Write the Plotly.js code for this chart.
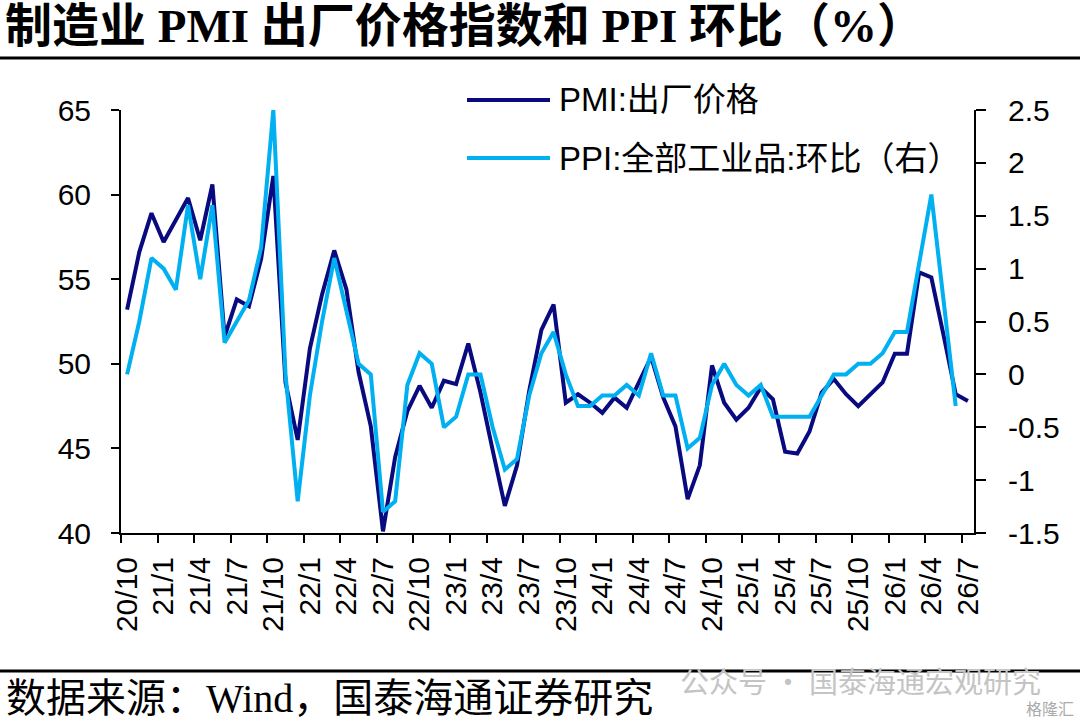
<!DOCTYPE html>
<html><head><meta charset="utf-8">
<script src="https://cdn.plot.ly/plotly-3.0.1.min.js"></script>
<style>html,body{margin:0;padding:0;background:#fff}#chart{width:1080px;height:723px}</style>
</head><body><div id="chart"></div>
<script>
const months = [
  "20/10","20/11","20/12",
  "21/1","21/2","21/3","21/4","21/5","21/6","21/7","21/8","21/9","21/10","21/11","21/12",
  "22/1","22/2","22/3","22/4","22/5","22/6","22/7","22/8","22/9","22/10","22/11","22/12",
  "23/1","23/2","23/3","23/4","23/5","23/6","23/7","23/8","23/9","23/10","23/11","23/12",
  "24/1","24/2","24/3","24/4","24/5","24/6","24/7","24/8","24/9","24/10","24/11","24/12",
  "25/1","25/2","25/3","25/4","25/5","25/6","25/7","25/8","25/9","25/10","25/11","25/12",
  "26/1","26/2","26/3","26/4","26/5","26/6","26/7"
];
const pmiOutputPrice = [
  53.2,56.6,58.9,
  57.2,58.5,59.8,57.3,60.6,51.6,53.8,53.4,56.2,61.1,48.9,45.5,
  50.9,54.1,56.7,54.4,49.5,46.3,40.1,44.5,47.2,48.7,47.4,49.0,
  48.8,51.2,48.3,44.9,41.6,44.0,48.4,52.0,53.5,47.7,48.2,47.7,
  47.1,48.0,47.4,48.9,50.4,48.0,46.3,42.0,44.0,49.9,47.7,46.7,
  47.4,48.6,47.9,44.8,44.7,46.0,48.3,49.1,48.2,47.5,48.2,48.9,
  50.6,50.6,55.4,55.1,51.7,48.2,47.8
];
const ppiMoM = [
  0.0,0.5,1.1,
  1.0,0.8,1.6,0.9,1.6,0.3,0.5,0.7,1.2,2.5,0.0,-1.2,
  -0.2,0.5,1.1,0.6,0.1,0.0,-1.3,-1.2,-0.1,0.2,0.1,-0.5,
  -0.4,0.0,0.0,-0.5,-0.9,-0.8,-0.2,0.2,0.4,0.0,-0.3,-0.3,
  -0.2,-0.2,-0.1,-0.2,0.2,-0.2,-0.2,-0.7,-0.6,-0.1,0.1,-0.1,
  -0.2,-0.1,-0.4,-0.4,-0.4,-0.4,-0.2,0.0,0.0,0.1,0.1,0.2,
  0.4,0.4,1.05,1.7,0.7,-0.3
];
const leftTickVals = [40,45,50,55,60,65];
const rightTickVals = [-1.5,-1,-0.5,0,0.5,1,1.5,2,2.5];
const rightTickText = ["-1.5","-1","-0.5","0","0.5","1","1.5","2","2.5"];
const seriesNames = ["PMI:出厂价格","PPI:全部工业品:环比（右）"];
const seriesColors = ["#0A0A80","#00B0F0"];
const titleText = "制造业 PMI 出厂价格指数和 PPI 环比（%）";
const sourceText = "数据来源：Wind，国泰海通证券研究";
const watermarkText = "公众号 · 国泰海通宏观研究";

const W = 1080, H = 723, L = 121, R = 974, T = 110, B = 533;
const px = x => (x - L) / (R - L);
const py = y => (B - y) / (B - T);

const tickFont = {family: "Liberation Sans, Arial, sans-serif", size: 30, color: "#000"};
const legendFont = {family: "Liberation Sans, Noto Sans CJK SC, sans-serif", size: 33, color: "#000"};

const traces = [
  {x: months, y: pmiOutputPrice, type: "scatter", mode: "lines", name: seriesNames[0],
   line: {color: seriesColors[0], width: 4}, yaxis: "y"},
  {x: months.slice(0, ppiMoM.length), y: ppiMoM, type: "scatter", mode: "lines", name: seriesNames[1],
   line: {color: seriesColors[1], width: 4}, yaxis: "y2"}
];

const layout = {
  width: W, height: H,
  margin: {l: L, r: W - R, t: T, b: H - B, pad: 0},
  paper_bgcolor: "#fff", plot_bgcolor: "#fff",
  showlegend: false,
  title: {text: titleText, x: 5 / W, xanchor: "left", xref: "container",
          y: 1 - 26 / H, yanchor: "middle", yref: "container",
          font: {family: "Liberation Serif, Noto Sans CJK SC, serif", size: 47, color: "#000", weight: "bold"}},
  xaxis: {type: "category", range: [-0.5, months.length - 0.5], tickmode: "linear", tick0: 0, dtick: 3,
          tickson: "boundaries", ticks: "outside", ticklen: 8, tickwidth: 2, tickcolor: "#000",
          showline: true, linewidth: 2, linecolor: "#000", showgrid: false, zeroline: false,
          tickangle: -90, tickfont: tickFont, ticklabelstandoff: 10, fixedrange: true},
  yaxis: {range: [40, 65], tickmode: "array", tickvals: leftTickVals, ticks: "outside", ticklen: 8,
          tickwidth: 2, tickcolor: "#000", showline: true, linewidth: 2, linecolor: "#000",
          showgrid: false, zeroline: false, tickfont: tickFont, ticklabelstandoff: 14},
  yaxis2: {range: [-1.5, 2.5], overlaying: "y", side: "right", tickmode: "array", tickvals: rightTickVals,
           ticktext: rightTickText, ticks: "outside", ticklen: 10, tickwidth: 2, tickcolor: "#000",
           showline: true, linewidth: 2, linecolor: "#000", showgrid: false, zeroline: false,
           tickfont: tickFont, ticklabelstandoff: 16},
  shapes: [
    {type: "line", xref: "paper", yref: "paper", x0: px(0), x1: px(W), y0: py(58), y1: py(58),
     line: {color: "#000", width: 3}},
    {type: "line", xref: "paper", yref: "paper", x0: px(0), x1: px(W), y0: py(671), y1: py(671),
     line: {color: "#000", width: 3}},
    {type: "line", xref: "paper", yref: "paper", x0: px(467), x1: px(550), y0: py(100), y1: py(100),
     line: {color: seriesColors[0], width: 4}},
    {type: "line", xref: "paper", yref: "paper", x0: px(467), x1: px(550), y0: py(158), y1: py(158),
     line: {color: seriesColors[1], width: 4}}
  ],
  annotations: [
    {text: seriesNames[0], xref: "paper", yref: "paper", x: px(557), y: py(100), xanchor: "left",
     yanchor: "middle", showarrow: false, font: legendFont},
    {text: seriesNames[1], xref: "paper", yref: "paper", x: px(557), y: py(158), xanchor: "left",
     yanchor: "middle", showarrow: false, font: legendFont},
    {text: sourceText, xref: "paper", yref: "paper", x: px(4), y: py(698), xanchor: "left",
     yanchor: "middle", showarrow: false,
     font: {family: "Liberation Serif, Noto Sans CJK SC, serif", size: 40, color: "#000"}},
    {text: watermarkText, xref: "paper", yref: "paper", x: px(678), y: py(680), xanchor: "left",
     yanchor: "middle", showarrow: false,
     font: {family: "Noto Sans CJK SC, sans-serif", size: 29, color: "#C4C4C4"}},
    {text: "格隆汇", xref: "paper", yref: "paper", x: px(1076), y: py(708), xanchor: "right",
     yanchor: "middle", showarrow: false,
     font: {family: "Noto Sans CJK SC, sans-serif", size: 16, color: "#AAAAAA"}}
  ]
};

Plotly.newPlot("chart", traces, layout, {staticPlot: true, displayModeBar: false});
</script>
</body></html>
